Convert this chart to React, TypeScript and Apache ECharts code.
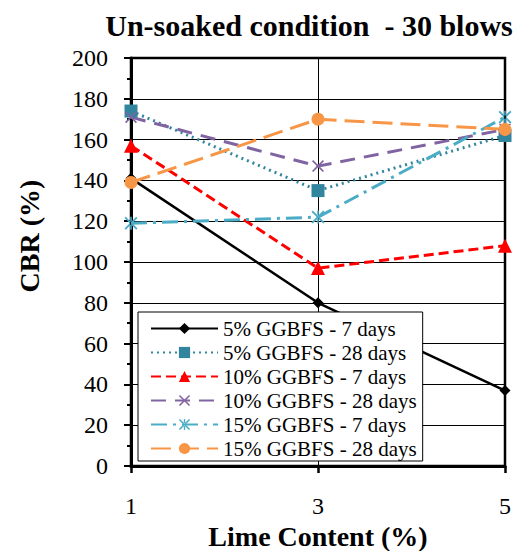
import React, { useEffect, useRef } from "react";
import * as echarts from "echarts";

const limeContent = ["1", "3", "5"];
const ggbfs5Days7 = [141, 80, 37];
const ggbfs5Days28 = [174, 135, 162];
const ggbfs10Days7 = [157, 97, 108];
const ggbfs10Days28 = [171, 147, 165];
const ggbfs15Days7 = [119, 122, 171];
const ggbfs15Days28 = [139, 170, 165];

const seriesNames = [
  "5% GGBFS - 7 days",
  "5% GGBFS - 28 days",
  "10% GGBFS - 7 days",
  "10% GGBFS - 28 days",
  "15% GGBFS - 7 days",
  "15% GGBFS - 28 days",
];

const FONT = "Liberation Serif, Times New Roman, serif";
const X_SYMBOL =
  "path://M1,0 L5,4 L9,0 L10,1 L6,5 L10,9 L9,10 L5,6 L1,10 L0,9 L4,5 L0,1 Z";
const STAR_SYMBOL =
  "path://M1,0 L5,4 L9,0 L10,1 L6,5 L10,9 L9,10 L5,6 L1,10 L0,9 L4,5 L0,1 Z M4.4,0 L4.4,10 L5.6,10 L5.6,0 Z";

export default function App() {
  const ref = useRef<HTMLDivElement>(null);

  useEffect(() => {
    if (!ref.current) return;
    const chart = echarts.init(ref.current, undefined, { renderer: "svg" });

    const mk = (
      name: string,
      data: number[],
      color: string,
      symbol: string,
      symbolSize: number,
      type: any,
      width: number
    ) => ({
      name,
      type: "line",
      data,
      symbol,
      symbolSize,
      showAllSymbol: true,
      itemStyle: { color, borderWidth: 0 },
      lineStyle: { color, width, type },
      z: 3,
    });

    const option: any = {
      animation: false,
      backgroundColor: "#fff",
      textStyle: { fontFamily: FONT },
      graphic: [
        {
          type: "text",
          x: 309,
          y: 25,
          style: {
            text: "Un-soaked condition  - 30 blows",
            fontSize: 30,
            fontWeight: "bold",
            fontFamily: FONT,
            fill: "#000",
            align: "center",
            verticalAlign: "middle",
          },
        },
        {
          type: "text",
          x: 29,
          y: 236,
          rotation: Math.PI / 2,
          style: {
            text: "CBR (%)",
            fontSize: 28,
            fontWeight: "bold",
            fontFamily: FONT,
            fill: "#000",
            align: "center",
            verticalAlign: "middle",
          },
        },
      ],
      grid: {
        left: 131,
        right: 15,
        top: 58,
        bottom: 85,
        outerBoundsMode: "none",
        show: true,
        borderColor: "#000",
        borderWidth: 2.5,
        backgroundColor: "transparent",
      },
      xAxis: {
        type: "category",
        data: limeContent,
        boundaryGap: false,
        axisLine: { lineStyle: { color: "#000", width: 3 } },
        axisTick: {
          show: true,
          length: 7,
          alignWithLabel: true,
          lineStyle: { color: "#000", width: 2.5 },
        },
        axisLabel: {
          fontSize: 24,
          fontFamily: FONT,
          color: "#000",
          margin: 28,
        },
        splitLine: { show: true, lineStyle: { color: "#000", width: 1 } },
        name: "Lime Content (%)",
        nameLocation: "middle",
        nameGap: 52,
        nameTextStyle: {
          fontSize: 28,
          fontWeight: "bold",
          fontFamily: FONT,
          color: "#000",
        },
      },
      yAxis: {
        type: "value",
        min: 0,
        max: 200,
        interval: 20,
        axisLine: { show: true, lineStyle: { color: "#000", width: 3 } },
        axisTick: { show: true, length: 7, lineStyle: { color: "#000", width: 2 } },
        minorTick: {
          show: true,
          splitNumber: 2,
          length: 4,
          lineStyle: { color: "#000", width: 2 },
        },
        axisLabel: {
          fontSize: 24,
          fontFamily: FONT,
          color: "#000",
          margin: 23,
        },
        splitLine: { show: true, lineStyle: { color: "#000", width: 1 } },
      },
      legend: {
        orient: "vertical",
        left: 138,
        top: 312,
        data: seriesNames,
        itemWidth: 67,
        itemHeight: 14,
        itemGap: 3,
        padding: [6, 6, 2, 12],
        backgroundColor: "#fff",
        borderColor: "#000",
        borderWidth: 1,
        borderRadius: 0,
        textStyle: {
          fontSize: 21,
          lineHeight: 20,
          fontFamily: FONT,
          color: "#000",
        },
      },
      series: [
        mk(seriesNames[0], ggbfs5Days7, "#000000", "diamond", 11, "solid", 2.5),
        mk(seriesNames[1], ggbfs5Days28, "#31859C", "rect", 13, [2, 4], 3),
        mk(seriesNames[2], ggbfs10Days7, "#FF0000", "triangle", 14, [10, 5], 3),
        mk(seriesNames[3], ggbfs10Days28, "#8064A2", X_SYMBOL, 12, [15, 9], 3),
        mk(seriesNames[4], ggbfs15Days7, "#4BACC6", STAR_SYMBOL, 13, [16, 6, 3, 6], 3),
        mk(seriesNames[5], ggbfs15Days28, "#F79646", "circle", 13, [20, 8], 3),
      ],
    };

    chart.setOption(option);
    return () => chart.dispose();
  }, []);

  return (
    <div
      ref={ref}
      style={{ position: "fixed", left: 0, top: 0, width: 520, height: 551, background: "#fff" }}
    />
  );
}
